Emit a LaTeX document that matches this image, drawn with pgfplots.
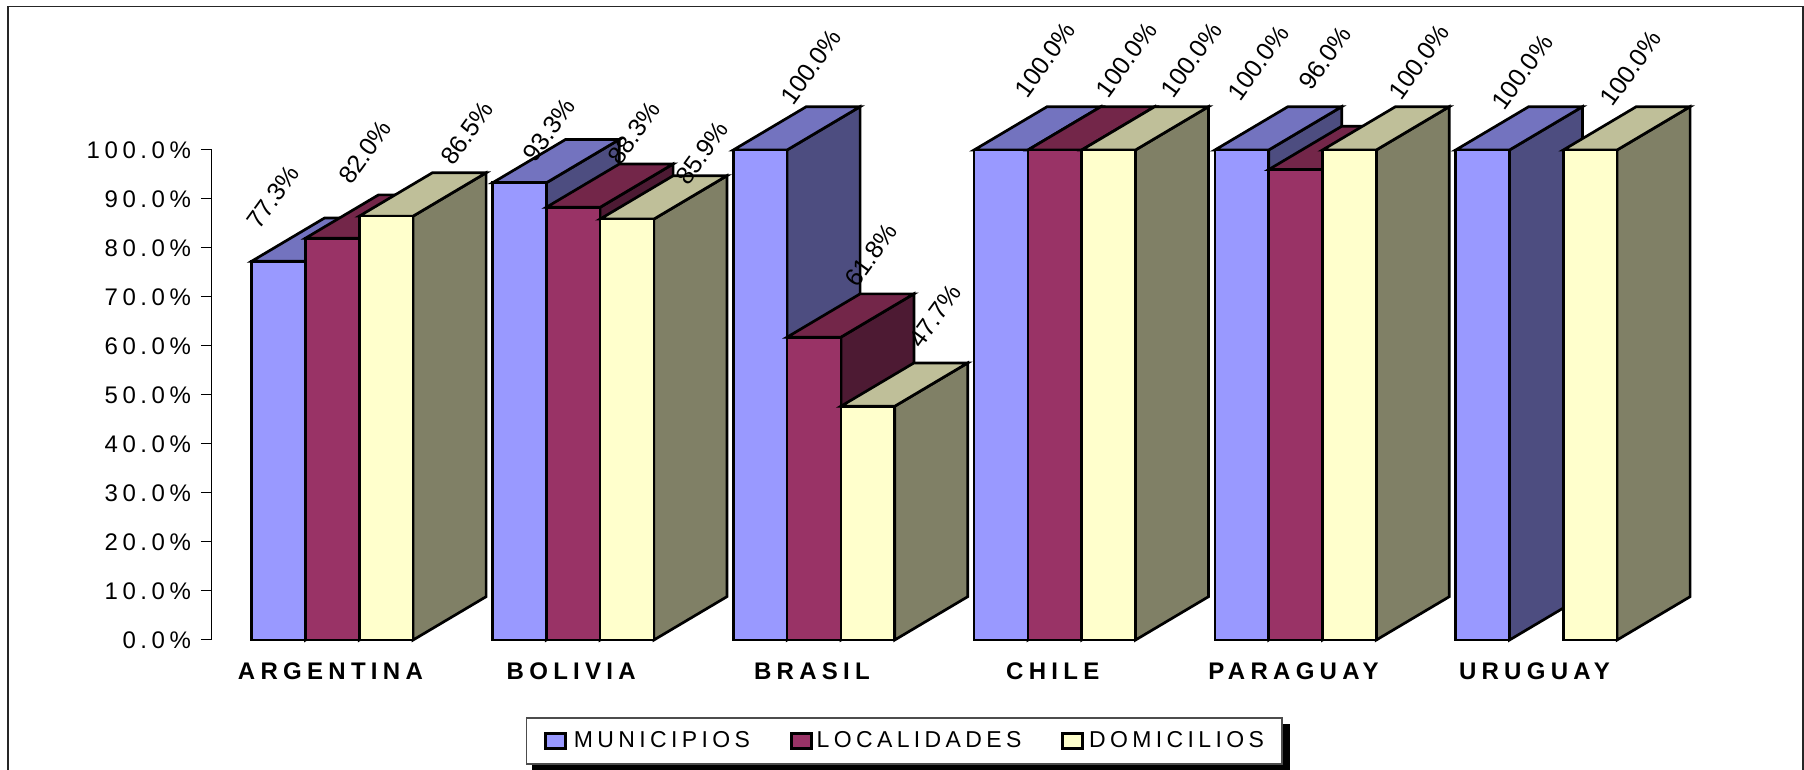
\documentclass[border=0pt]{standalone}
\usepackage{fontspec}
\setmainfont{Liberation Sans}
\newfontfamily\spacedfont[LetterSpace=19]{Liberation Sans}
\newfontfamily\catfont[LetterSpace=22]{Liberation Sans}
\newfontfamily\legfont[LetterSpace=19]{Liberation Sans}
\usepackage{pgfplots}
\pgfplotsset{compat=1.18}

\definecolor{munif}{HTML}{9999FF}\definecolor{munis}{HTML}{4D4D80}\definecolor{munit}{HTML}{7373BF}
\definecolor{locaf}{HTML}{993366}\definecolor{locas}{HTML}{4D1A33}\definecolor{locat}{HTML}{732649}
\definecolor{domif}{HTML}{FFFFCC}\definecolor{domis}{HTML}{808066}\definecolor{domit}{HTML}{BFBF99}

% bar width, depth in x and depth in y (axis units)
\def\bw{0.2234}
\def\dx{0.3032}
\def\dy{8.84}

% #1 group, #2 slot (-1,0,1), #3 value, #4 colour prefix
\newcommand{\oneBar}[4]{%
  \pgfmathsetmacro\xc{#1+#2*\bw}%
  \pgfmathsetmacro\xl{\xc-\bw/2}%
  \pgfmathsetmacro\xr{\xc+\bw/2}%
  \pgfmathsetmacro\xb{\xr+\dx}%
  \pgfmathsetmacro\xa{\xl+\dx}%
  \pgfmathsetmacro\yt{#3+\dy}%
  \edef\tmp{%
    \noexpand\addplot[forget plot, draw=black, line width=1.35pt, fill=#4s] coordinates
      {(\xr,0) (\xb,\dy) (\xb,\yt) (\xr,#3)} --cycle;
    \noexpand\addplot[forget plot, draw=black, line width=1.35pt, fill=#4t] coordinates
      {(\xl,#3) (\xa,\yt) (\xb,\yt) (\xr,#3)} --cycle;
    \noexpand\addplot[forget plot, ybar, bar width=\bw, bar shift=0pt, draw=black, line width=1.35pt, fill=#4f] coordinates
      {(\xc,#3)};
  }\tmp
}

\begin{document}
\begin{tikzpicture}[x=1pt,y=1pt]
\clip (-106,-65) rectangle (796,320);
\draw[line width=0.7pt, black!85] (-102,-80) -- (-102,316.75) -- (795.5,316.75) -- (795.5,-80);
% legend shadow
\fill[black] (160,-65) rectangle (539,-42);
\begin{axis}[
    at={(0,0)}, anchor=south west,
    scale only axis, width=722.4pt, height=245pt,
    xmin=-0.5, xmax=5.5, ymin=0, ymax=100,
    clip=false,
    axis y line=left, axis x line=bottom,
    axis line style={-, line width=0.5pt},
    x axis line style={draw=none},
    xtick={0,1,2,3,4,5},
    xticklabels={ARGENTINA,BOLIVIA,BRASIL,CHILE,PARAGUAY,URUGUAY},
    xticklabel style={font=\catfont\bfseries\fontsize{12}{14}\selectfont, yshift=-2.5pt, xshift=-1pt},
    xtick style={draw=none},
    ytick={0,10,20,30,40,50,60,70,80,90,100},
    yticklabels={0.0\%,10.0\%,20.0\%,30.0\%,40.0\%,50.0\%,60.0\%,70.0\%,80.0\%,90.0\%,100.0\%},
    yticklabel style={font=\spacedfont\fontsize{12}{14}\selectfont, xshift=-1.5pt},
    ytick style={line width=0.5pt, black},
    tick align=outside, major tick length=5.5pt,
    legend columns=3,
    legend cell align=left,
    legend style={
        at={(0.479,-0.206)}, anchor=center,
        draw=black!70, line width=0.6pt, fill=white,
        font=\legfont\fontsize{11.5}{13}\selectfont,
        inner xsep=9pt, inner ysep=6.75pt,
        nodes={inner sep=0pt},
        /tikz/column 1/.style={column sep=3.5pt},
        /tikz/column 2/.style={column sep=20pt},
        /tikz/column 3/.style={column sep=2pt},
        /tikz/column 4/.style={column sep=20pt},
        /tikz/column 5/.style={column sep=2.5pt},
    },
    legend image code/.code={
        \draw[#1, line width=1.35pt] (0pt,-3.8pt) rectangle (10pt,3.8pt);
    },
]
\oneBar{0}{-1}{77.3}{muni}
\oneBar{0}{0}{82.0}{loca}
\oneBar{0}{1}{86.5}{domi}
\oneBar{1}{-1}{93.3}{muni}
\oneBar{1}{0}{88.3}{loca}
\oneBar{1}{1}{85.9}{domi}
\oneBar{2}{-1}{100.0}{muni}
\oneBar{2}{0}{61.8}{loca}
\oneBar{2}{1}{47.7}{domi}
\oneBar{3}{-1}{100.0}{muni}
\oneBar{3}{0}{100.0}{loca}
\oneBar{3}{1}{100.0}{domi}
\oneBar{4}{-1}{100.0}{muni}
\oneBar{4}{0}{96.0}{loca}
\oneBar{4}{1}{100.0}{domi}
\oneBar{5}{-1}{100.0}{muni}
\oneBar{5}{1}{100.0}{domi}

\addlegendimage{draw=black, fill=munif}\addlegendentry{MUNICIPIOS}
\addlegendimage{draw=black, fill=locaf}\addlegendentry{LOCALIDADES}
\addlegendimage{draw=black, fill=domif}\addlegendentry{DOMICILIOS}

\begin{scope}[every node/.style={rotate=54, font=\fontsize{12.5}{15}\selectfont, inner sep=0pt}]
\node at (axis cs:-0.246,90.4) {77.3\%};
\node at (axis cs:0.136,99.6) {82.0\%};
\node at (axis cs:0.560,103.5) {86.5\%};
\node at (axis cs:0.900,104.1) {93.3\%};
\node at (axis cs:1.253,103.5) {88.3\%};
\node at (axis cs:1.536,99.4) {85.9\%};
\node at (axis cs:1.988,117.0) {100.0\%};
\node at (axis cs:2.237,78.6) {61.8\%};
\node at (axis cs:2.503,66.1) {47.7\%};
\node at (axis cs:2.960,118.4) {100.0\%};
\node at (axis cs:3.297,118.4) {100.0\%};
\node at (axis cs:3.567,118.4) {100.0\%};
\node at (axis cs:3.845,117.8) {100.0\%};
\node at (axis cs:4.123,118.8) {96.0\%};
\node at (axis cs:4.513,118.0) {100.0\%};
\node at (axis cs:4.941,115.9) {100.0\%};
\node at (axis cs:5.392,116.7) {100.0\%};
\end{scope}
\end{axis}
\end{tikzpicture}
\end{document}
